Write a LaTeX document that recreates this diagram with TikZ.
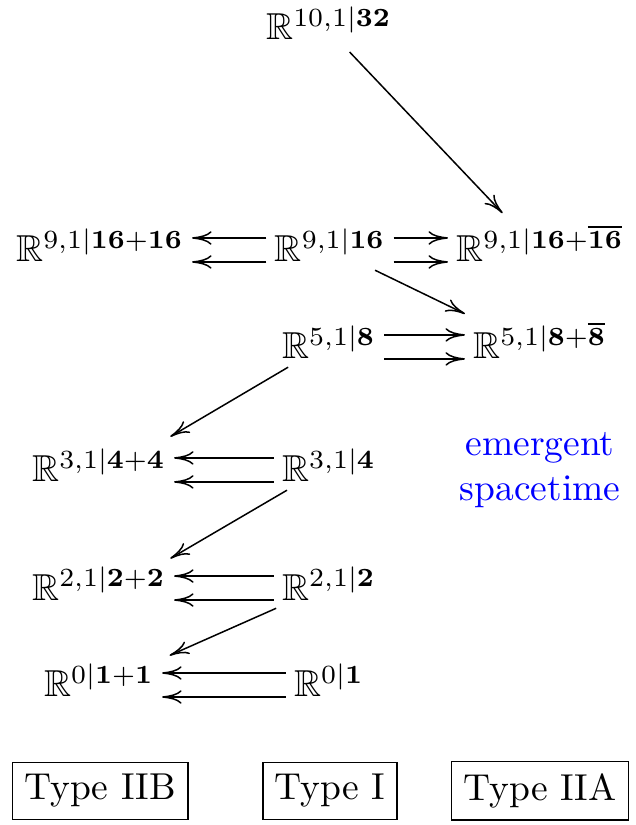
\documentclass[tikz,border=0pt]{standalone}
\usepackage{amsmath,amssymb}
\usepackage{tikz}
\usetikzlibrary{arrows.meta}

\begin{document}
\begin{tikzpicture}[>={To[length=5.2pt, width=3.6pt]}, sp/.style={anchor=base, inner sep=2pt}, typ/.style={draw, inner sep=3.2pt}]
	\useasboundingbox (0,0) rectangle (5.953,7.734);
	% superspaces
	\node[sp] (r10) at (3.084,7.359) {$\mathbb{R}^{10,1|\mathbf{32}}$};
	\node[sp] (r9b) at (0.9375,5.278) {$\mathbb{R}^{9,1|\mathbf{16}+\mathbf{16}}$};
	\node[sp] (r9) at (3.094,5.278) {$\mathbb{R}^{9,1|\mathbf{16}}$};
	\node[sp] (r9a) at (5.0625,5.278) {$\mathbb{R}^{9,1|\mathbf{16}+\overline{\mathbf{16}}}$};
	\node[sp] (r5) at (3.084,4.369) {$\mathbb{R}^{5,1|\mathbf{8}}$};
	\node[sp] (r5a) at (5.0625,4.369) {$\mathbb{R}^{5,1|\mathbf{8}+\overline{\mathbf{8}}}$};
	\node[sp] (r3b) at (0.928,3.216) {$\mathbb{R}^{3,1|\mathbf{4}+\mathbf{4}}$};
	\node[sp] (r3) at (3.084,3.216) {$\mathbb{R}^{3,1|\mathbf{4}}$};
	\node[sp] (r2b) at (0.928,2.109) {$\mathbb{R}^{2,1|\mathbf{2}+\mathbf{2}}$};
	\node[sp] (r2) at (3.084,2.109) {$\mathbb{R}^{2,1|\mathbf{2}}$};
	\node[sp] (r0b) at (0.928,1.200) {$\mathbb{R}^{0|\mathbf{1}+\mathbf{1}}$};
	\node[sp] (r0) at (3.084,1.200) {$\mathbb{R}^{0|\mathbf{1}}$};
	\node[blue, align=center] (emg) at (5.0625,3.328) {emergent\\spacetime};
	% labels
	\node[typ] (tIIB) at (0.9375,0.319) {Type IIB};
	\node[typ] (tI) at (3.094,0.319) {Type I};
	\node[typ] (tIIA) at (5.0625,0.319) {Type IIA};
	% double arrows
	\foreach \s in {0pt,6.4pt} {
		\draw[->] ([yshift=\s]r9.base west) -- ([yshift=\s]r9b.base east);
		\draw[->] ([yshift=\s]r9.base east) -- ([yshift=\s]r9a.base west);
		\draw[->] ([yshift=\s]r5.base east) -- ([yshift=\s]r5a.base west);
		\draw[->] ([yshift=\s]r3.base west) -- ([yshift=\s]r3b.base east);
		\draw[->] ([yshift=\s]r2.base west) -- ([yshift=\s]r2b.base east);
		\draw[->] ([yshift=\s]r0.base west) -- ([yshift=\s]r0b.base east);
	}
	% reductions
	\draw[->] ([xshift=5.5pt,yshift=-1pt]r10.south) -- ([xshift=-10pt,yshift=1pt]r9a.north);
	\draw[->] ([xshift=12pt]r9.south) -- (r5a.north west);
	\draw[->] ([xshift=3.8pt]r5.south west) -- ([xshift=-1pt,yshift=1pt]r3b.north east);
	\draw[->] ([xshift=3.5pt]r3.south west) -- ([xshift=-1pt]r2b.north east);
	\draw[->] ([xshift=0.6pt]r2.south west) -- ([xshift=2pt]r0b.north east);
\end{tikzpicture}
\end{document}
